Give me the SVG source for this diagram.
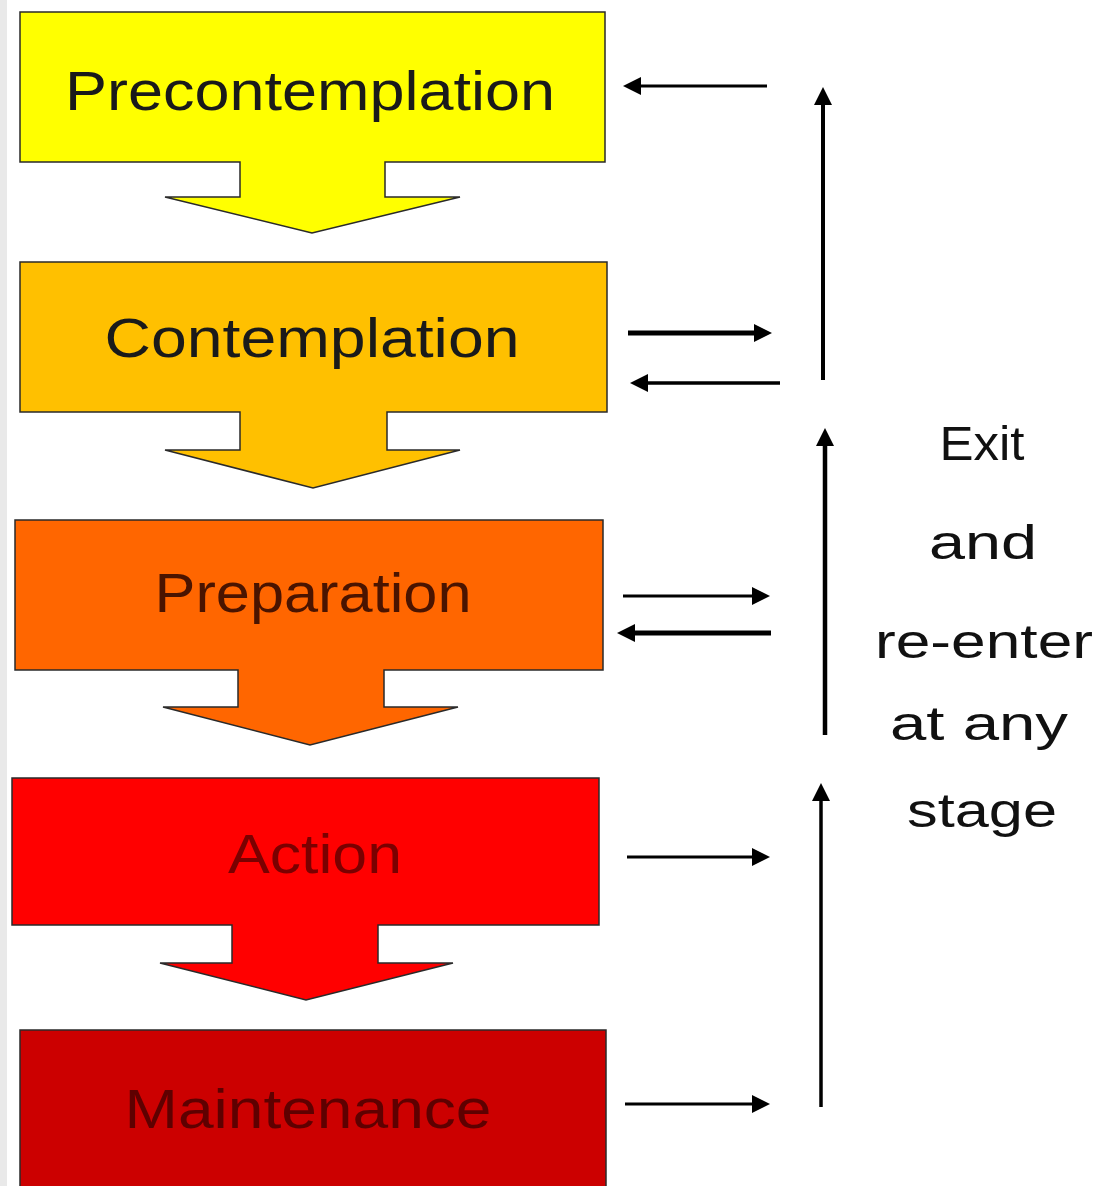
<svg xmlns="http://www.w3.org/2000/svg" width="1099" height="1186" viewBox="0 0 1099 1186">
  <defs>
    <style>
      .stage { stroke: #2a2a2a; stroke-width: 1.5; stroke-linejoin: miter; }
      .lbl { font-family: "Liberation Sans", "DejaVu Sans", sans-serif; font-size: 56px; text-anchor: middle; }
      .side { font-family: "Liberation Sans", "DejaVu Sans", sans-serif; font-size: 49px; text-anchor: middle; fill: #111; }
      .conn { stroke: #000; fill: none; stroke-linecap: butt; }
    </style>
    <marker id="head" markerUnits="userSpaceOnUse" viewBox="0 0 18 18" markerWidth="18" markerHeight="18" refX="0" refY="9" orient="auto">
      <path d="M0,0 L18,9 L0,18 Z" fill="#000"/>
    </marker>
  </defs>
  <rect x="0" y="0" width="1099" height="1186" fill="#ffffff"/>
  <rect x="0" y="0" width="7" height="1186" fill="#e9e9e9"/>

  <g id="precontemplation">
    <path class="stage" fill="#FFFF00" d="M20,12 H605 V162 H385 V197 H460 L312,233 L165,197 H240 V162 H20 Z"/>
    <text class="lbl" x="310" y="110" fill="#1a1a1a" textLength="490" lengthAdjust="spacingAndGlyphs">Precontemplation</text>
  </g>
  <g id="contemplation">
    <path class="stage" fill="#FFC000" d="M20,262 H607 V412 H387 V450 H460 L313,488 L165,450 H240 V412 H20 Z"/>
    <text class="lbl" x="312" y="357" fill="#1a1a1a" textLength="415" lengthAdjust="spacingAndGlyphs">Contemplation</text>
  </g>
  <g id="preparation">
    <path class="stage" fill="#FF6600" d="M15,520 H603 V670 H384 V707 H458 L310,745 L163,707 H238 V670 H15 Z"/>
    <text class="lbl" x="313" y="612" fill="#4a1400" textLength="317" lengthAdjust="spacingAndGlyphs">Preparation</text>
  </g>
  <g id="action">
    <path class="stage" fill="#FF0000" d="M12,778 H599 V925 H378 V963 H453 L306,1000 L160,963 H232 V925 H12 Z"/>
    <text class="lbl" x="315" y="873" fill="#7a0000" textLength="174" lengthAdjust="spacingAndGlyphs">Action</text>
  </g>
  <g id="maintenance">
    <rect class="stage" fill="#CC0000" x="20" y="1030" width="586" height="170"/>
    <text class="lbl" x="308" y="1128" fill="#5e0000" textLength="367" lengthAdjust="spacingAndGlyphs">Maintenance</text>
  </g>

  <g id="exit-label">
    <text class="side" x="982" y="460" textLength="85" lengthAdjust="spacingAndGlyphs">Exit</text>
    <text class="side" x="983" y="559" textLength="108" lengthAdjust="spacingAndGlyphs">and</text>
    <text class="side" x="984" y="658" textLength="218" lengthAdjust="spacingAndGlyphs">re-enter</text>
    <text class="side" x="979" y="740" textLength="178" lengthAdjust="spacingAndGlyphs">at any</text>
    <text class="side" x="982" y="827" textLength="150" lengthAdjust="spacingAndGlyphs">stage</text>
  </g>

  <g id="connectors">
    <line class="conn" x1="767" y1="86" x2="641" y2="86" stroke-width="3" marker-end="url(#head)"/>
    <line class="conn" x1="823" y1="380" x2="823" y2="105" stroke-width="4" marker-end="url(#head)"/>
    <line class="conn" x1="628" y1="333" x2="754" y2="333" stroke-width="5" marker-end="url(#head)"/>
    <line class="conn" x1="780" y1="383" x2="648" y2="383" stroke-width="3.5" marker-end="url(#head)"/>
    <line class="conn" x1="825" y1="735" x2="825" y2="446" stroke-width="4.5" marker-end="url(#head)"/>
    <line class="conn" x1="623" y1="596" x2="752" y2="596" stroke-width="3" marker-end="url(#head)"/>
    <line class="conn" x1="771" y1="633" x2="635" y2="633" stroke-width="5" marker-end="url(#head)"/>
    <line class="conn" x1="821" y1="1107" x2="821" y2="801" stroke-width="3.5" marker-end="url(#head)"/>
    <line class="conn" x1="627" y1="857" x2="752" y2="857" stroke-width="3" marker-end="url(#head)"/>
    <line class="conn" x1="625" y1="1104" x2="752" y2="1104" stroke-width="3" marker-end="url(#head)"/>
  </g>
</svg>
